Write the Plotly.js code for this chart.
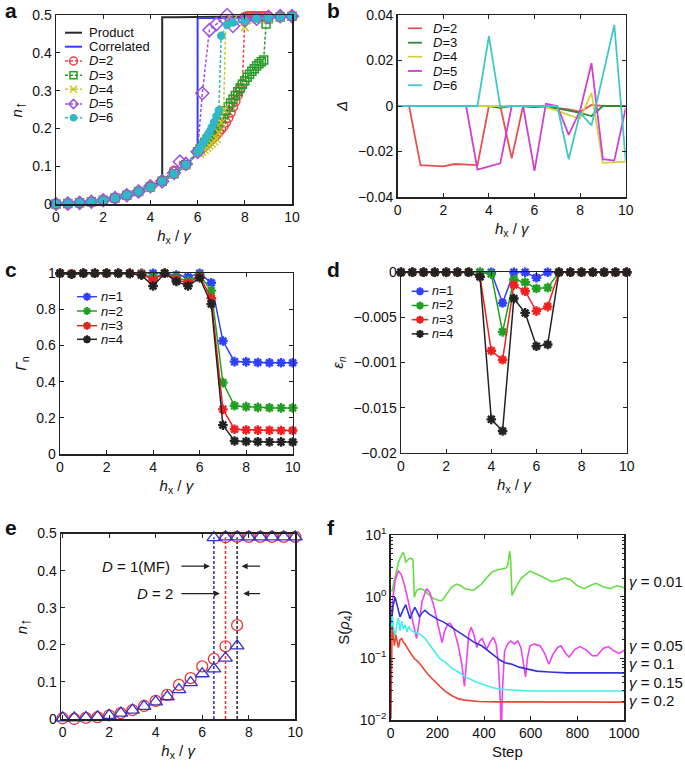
<!DOCTYPE html>
<html><head><meta charset="utf-8">
<script src="https://cdn.plot.ly/plotly-3.0.1.min.js"></script>
<style>html,body{margin:0;padding:0;background:#fff}#chart{width:685px;height:771px}</style>
</head><body><div id="chart"></div>
<script>
// ================= DATA =================
// ---- panel a : n_up vs h_x/gamma ----
const aProductH = [0,0.5,1,1.5,2,2.5,3,3.5,4,4.5,4.5,5,6,7,8,9,10];
const aProductN = [0,0.001,0.003,0.006,0.010,0.016,0.023,0.033,0.045,0.062,0.494,0.494,0.495,0.495,0.496,0.496,0.497];
const aCorrH = [0,0.5,1,1.5,2,2.5,3,3.5,4,4.5,5,5.5,6,6,7,8,9,10];
const aCorrN = [0,0.001,0.003,0.006,0.010,0.016,0.023,0.033,0.045,0.059,0.078,0.102,0.135,0.492,0.492,0.493,0.494,0.495];
const aD2H = [0,0.5,1,1.5,2,2.5,3,3.5,4,4.5,5,5.5,6,6.1,6.2,6.3,6.4,6.5,6.6,6.7,6.8,6.9,7,7.1,7.2,7.3,7.4,7.5,7.6,7.7,7.8,7.9,8,8.1,8.2,8.3,8.4,8.5,8.6,8.7,8.8,8.9,9,9.5,10];
const aD2N = [0,0.001,0.003,0.006,0.010,0.016,0.023,0.033,0.046,0.062,0.088,0.104,0.138,0.142,0.148,0.154,0.160,0.166,0.172,0.178,0.184,0.191,0.198,0.206,0.216,0.228,0.242,0.257,0.272,0.288,0.303,0.318,0.495,0.497,0.497,0.497,0.497,0.497,0.497,0.497,0.497,0.497,0.497,0.497,0.497];
const aD3H = [0,0.5,1,1.5,2,2.5,3,3.5,4,4.5,5,5.5,6,6.1,6.2,6.3,6.4,6.5,6.6,6.7,6.8,6.9,7,7.1,7.2,7.3,7.4,7.5,7.6,7.7,7.8,7.9,8,8.1,8.2,8.3,8.4,8.5,8.6,8.7,8.8,8.9,9,9.5,10];
const aD3N = [0,0.001,0.003,0.006,0.010,0.016,0.023,0.033,0.045,0.060,0.080,0.104,0.138,0.145,0.155,0.163,0.171,0.180,0.189,0.198,0.207,0.217,0.227,0.237,0.247,0.257,0.267,0.277,0.287,0.297,0.307,0.317,0.326,0.335,0.343,0.351,0.358,0.365,0.371,0.376,0.381,0.476,0.490,0.495,0.497];
const aD4H = [0,0.5,1,1.5,2,2.5,3,3.5,4,4.5,5,5.5,6,6.1,6.2,6.3,6.4,6.5,6.6,6.7,6.8,6.9,7,7.1,7.2,7.5,8,8.5,9,9.5,10];
const aD4N = [0,0.001,0.003,0.006,0.010,0.016,0.023,0.033,0.045,0.060,0.080,0.104,0.136,0.134,0.138,0.143,0.149,0.155,0.160,0.166,0.172,0.190,0.215,0.250,0.485,0.487,0.468,0.488,0.490,0.495,0.497];
const aD5H = [0,0.5,1,1.5,2,2.5,3,3.5,4,4.5,5,5.25,5.5,6,6.2,6.5,6.8,7.25,7.5,8,8.5,9,9.5,10];
const aD5N = [0,0.001,0.003,0.006,0.010,0.016,0.023,0.033,0.047,0.060,0.082,0.112,0.106,0.138,0.293,0.460,0.476,0.500,0.471,0.487,0.490,0.495,0.497,0.497];
const aD6H = [0,0.5,1,1.5,2,2.5,3,3.5,4,4.5,5,5.5,6,6.1,6.2,6.3,6.4,6.5,6.6,6.7,6.8,6.9,7,7.25,7.5,8,8.5,9,9.5,10];
const aD6N = [0,0.001,0.003,0.006,0.010,0.016,0.023,0.033,0.044,0.060,0.080,0.104,0.138,0.148,0.158,0.168,0.179,0.190,0.203,0.217,0.232,0.248,0.445,0.474,0.480,0.485,0.490,0.493,0.495,0.497];

// ---- panel b : Delta vs h_x/gamma ----
const bH  = [0,0.5,1,1.5,2,2.5,3,3.5,4,4.5,5,5.5,6,6.5,7,7.5,8,8.5,9,9.5,10];
const bD2 = [0,0,-0.026,-0.0262,-0.0265,-0.0255,-0.0258,-0.026,0,0,-0.023,0,-0.0005,-0.0005,-0.001,-0.0015,-0.0025,0.0005,0,0,0];
const bD3 = [0,0,0,0,0,0,0,0,0,-0.0008,0,0,-0.0005,-0.0005,-0.001,-0.002,-0.003,-0.0044,0,0,0];
const bD4 = [0,0,0,0,0,0,0,0.0003,0.0003,0.0003,0,0,0,-0.0005,-0.002,-0.004,-0.0055,0.0058,-0.025,-0.0248,-0.0245];
const bD5 = [0,0,0,0,0,0,0,-0.028,-0.0265,-0.0252,0,0,-0.0285,0.001,0,-0.0127,-0.002,0.0188,-0.0234,-0.024,-0.001];
const bD6 = [0,0,0,0,0,0,0,0,0.0307,-0.0005,0,0,0,0,0,-0.0234,-0.003,-0.0085,0.0135,0.0356,-0.024];

// ---- panel c : Gamma_n vs h_x/gamma ----
const cH  = [0,0.5,1,1.5,2,2.5,3,3.5,4,4.5,5,5.5,6,6.5,7,7.5,8,8.5,9,9.5,10];
const cN1 = [1,0.997,1,1,1,1,1,1,1,1,0.99,0.98,1,0.948,0.625,0.511,0.51,0.506,0.505,0.505,0.505];
const cN2 = [1,0.997,1,1,1,1,1,0.998,0.975,1,0.975,0.958,0.99,0.904,0.395,0.267,0.262,0.258,0.256,0.255,0.255];
const cN3 = [1,0.997,1,1,1,1,1,0.995,0.963,1,0.965,0.945,0.985,0.862,0.247,0.137,0.133,0.132,0.131,0.13,0.13];
const cN4 = [1,0.995,1,1,1,1,0.998,0.99,0.93,1,0.955,0.93,0.975,0.83,0.16,0.072,0.069,0.068,0.067,0.067,0.066];

// ---- panel d : epsilon_n vs h_x/gamma ----
const dH  = [0,0.5,1,1.5,2,2.5,3,3.5,4,4.5,5,5.5,6,6.5,7,7.5,8,8.5,9,9.5,10];
const dE1 = [0,0,0,0,0,0,0,0,0,-0.0034,0,0,-0.0006,0,0,0,0,0,0,0,0];
const dE2 = [0,0,0,0,0,0,0,0,-0.0002,-0.0066,-0.0008,-0.0011,-0.0018,-0.0017,0,0,0,0,0,0,0];
const dE3 = [0,0,0,0,0,0,0,-0.0005,-0.0087,-0.0097,-0.0014,-0.0021,-0.0043,-0.0038,0,0,0,0,0,0,0];
const dE4 = [0,0,0,0,0,0,0,-0.0005,-0.0163,-0.0176,-0.0029,-0.0045,-0.0082,-0.0080,0,0,0,0,0,0,0];
const dTickVals = [0,-0.005,-0.01,-0.015,-0.02];
const dTickText = ['0','\u22120.005','\u22120.001','\u22120.015','\u22120.02'];

// ---- panel e : hysteresis, D=1 (MF) triangles, D=2 circles ----
const eLoH   = [0,0.5,1,1.5,2,2.5,3,3.5,4,4.5,5,5.5,6,6.5,7,7.5];
const eMFLo  = [0.003,0.003,0.004,0.006,0.010,0.016,0.024,0.034,0.046,0.060,0.079,0.098,0.122,0.135,0.164,0.197];
const eD2Lo  = [0.002,0.000,0.003,0.005,0.010,0.016,0.024,0.035,0.049,0.065,0.092,0.110,0.142,0.162,0.196,0.253];
const eMFHiH = [6.5,7,7.5,8,8.5,9,9.5,10];
const eMFHi  = [0.489,0.491,0.491,0.491,0.491,0.491,0.491,0.491];
const eD2HiH = [7,7.5,8,8.5,9,9.5,10];
const eD2Hi  = [0.490,0.491,0.491,0.491,0.491,0.491,0.491];
const eTransH   = [6.5,7.0,7.5];
const eTransTop = [0.49,0.49,0.49];

// ---- panel f : S(rho_4) vs step ----
const fGreenStep = [5,19,33,45,54,60,64,72,83,93,96,101,111,125,140,160,180,200,219,240,261,283,300,319,340,354,370,390,410,433,455,483,495,503,510,514,520,540,560,597,620,650,690,720,745,770,800,830,860,880,910,940,970,1000];
const fGreenS    = [1.2,2.2,3.6,4.6,5.25,4.5,3.6,3.9,4.2,4.1,3.8,0.98,1.26,1.35,1.3,1.1,0.95,0.88,0.86,1.1,1.43,1.6,1.5,1.34,1.27,1.26,1.4,1.62,2.0,2.5,2.7,2.8,2.9,3.4,5.5,4.0,1.05,1.5,2.0,2.6,2.4,2.1,1.75,1.85,2.0,1.9,1.5,1.35,1.55,1.65,1.45,1.35,1.5,1.4];
const fMagStep = [3,10,20,33,45,60,75,90,103,111,120,135,154,168,185,200,212,220,230,245,254,270,290,305,316,325,335,345,357,369,380,392,402,411,425,440,452,462,470,474,479,488,500,515,530,545,558,570,578,586,597,615,640,660,678,695,715,730,750,765,790,812,840,865,885,910,933,960,980,1000];
const fMagS    = [0.5,1.0,1.9,2.6,2.3,1.5,0.85,0.45,0.27,0.21,0.35,0.85,1.35,1.15,0.7,0.38,0.22,0.18,0.27,0.36,0.37,0.3,0.16,0.08,0.035,0.1,0.25,0.32,0.24,0.15,0.19,0.21,0.17,0.14,0.18,0.22,0.17,0.08,0.02,0.005,0.03,0.13,0.17,0.19,0.17,0.19,0.15,0.07,0.05,0.1,0.16,0.17,0.16,0.12,0.08,0.115,0.15,0.16,0.12,0.105,0.14,0.155,0.135,0.11,0.11,0.145,0.155,0.13,0.12,0.135];
const fBlueStep = [3,10,19,28,40,52,64,75,83,95,104,115,123,135,147,165,183,205,226,250,276,305,333,360,390,420,447,470,490,520,550,576,600,626,680,754,850,1000];
const fBlueS    = [0.35,0.7,0.98,0.7,0.47,0.6,0.74,0.55,0.44,0.58,0.67,0.55,0.47,0.55,0.6,0.52,0.47,0.42,0.39,0.34,0.3,0.25,0.21,0.18,0.16,0.13,0.11,0.093,0.085,0.08,0.072,0.068,0.064,0.062,0.06,0.058,0.058,0.058];
const fCyanStep = [2,7,13,19,26,33,40,47,54,61,70,77,83,95,111,130,147,170,190,210,233,260,290,320,346,375,404,430,461,500,600,1000];
const fCyanS    = [0.2,0.5,0.3,0.23,0.35,0.45,0.28,0.4,0.3,0.35,0.27,0.33,0.3,0.27,0.26,0.24,0.21,0.16,0.126,0.1,0.087,0.07,0.06,0.05,0.045,0.04,0.037,0.034,0.032,0.031,0.0295,0.0295];
const fRedStep = [1,3,6,10,16,22,28,33,40,47,55,62,70,83,100,119,140,161,182,204,230,261,290,319,350,376,450,600,1000];
const fRedS    = [0.0105,0.2,0.33,0.25,0.16,0.24,0.18,0.15,0.2,0.21,0.18,0.17,0.15,0.126,0.1,0.087,0.068,0.054,0.045,0.037,0.03,0.025,0.022,0.021,0.0205,0.02,0.0197,0.0195,0.0195];
const fLabels = ['<i>\u03b3</i> = 0.01','<i>\u03b3</i> = 0.05','<i>\u03b3</i> = 0.1','<i>\u03b3</i> = 0.15','<i>\u03b3</i> = 0.2'];
const fTickVals = [0.01,0.1,1,10];
const fTickText = ['10<sup>\u22122</sup>','10<sup>\u22121</sup>','10<sup>0</sup>','10<sup>1</sup>'];

// ================= STYLE / LAYOUT =================
const W = 685, H = 771;
const fx = px => px / W;
const fy = py => 1 - py / H;
const FONT = 'Liberation Sans, Arial, Helvetica, sans-serif';
const DOT = '3px,2px';

const col = {
  prod:'#2a2a2a', corr:'#3a3aff',
  aD2:'#f04040', aD3:'#2a9a2a', aD4:'#c8c820', aD5:'#a050e0', aD6:'#30b8c8',
  bD2:'#e85050', bD3:'#2e8b37', bD4:'#d2d240', bD5:'#d040d0', bD6:'#40c8c8',
  n1:'#3040ff', n2:'#20a020', n3:'#f02020', n4:'#222222',
  eRed:'#ee3333', eBlue:'#3333cc', eBlack:'#333333',
  fG:'#66dd44', fM:'#ee44ee', fB:'#3333dd', fC:'#44eeee', fR:'#ee4433'
};

const traces = [];
function addLine(xa, ya, x, y, color, opts) {
  opts = opts || {};
  const t = {
    type:'scatter', mode: opts.mode || 'lines', x:x, y:y, xaxis:xa, yaxis:ya,
    line:{color:color, width: opts.width || 1.5, dash: opts.dash || 'solid'},
    cliponaxis: opts.clip ? true : false, showlegend:false, hoverinfo:'skip'
  };
  if (opts.symbol) t.marker = {symbol:opts.symbol, size:opts.size || 8, color: color,
      line:{color:color, width: opts.mlw || 1.5}};
  traces.push(t);
}

// panel a
addLine('x','y', aProductH, aProductN, col.prod, {width:2});
addLine('x','y', aCorrH, aCorrN, col.corr, {width:2});
addLine('x','y', aD2H, aD2N, col.aD2, {mode:'lines+markers', dash:DOT, symbol:'circle-open', size:9});
addLine('x','y', aD3H, aD3N, col.aD3, {mode:'lines+markers', dash:DOT, symbol:'square-open', size:8});
addLine('x','y', aD4H, aD4N, col.aD4, {mode:'lines+markers', dash:DOT, symbol:'x-thin-open', size:8});
addLine('x','y', aD5H, aD5N, col.aD5, {mode:'lines+markers', dash:DOT, symbol:'diamond-open', size:10});
addLine('x','y', aD6H, aD6N, col.aD6, {mode:'lines+markers', dash:DOT, symbol:'circle', size:7});
// panel b
addLine('x2','y2', bH, bD2, col.bD2, {width:1.8});
addLine('x2','y2', bH, bD3, col.bD3, {width:1.8});
addLine('x2','y2', bH, bD4, col.bD4, {width:1.8});
addLine('x2','y2', bH, bD5, col.bD5, {width:1.8});
addLine('x2','y2', bH, bD6, col.bD6, {width:1.8});
// panel c
[[cN1,col.n1],[cN2,col.n2],[cN3,col.n3],[cN4,col.n4]].forEach(p =>
  addLine('x3','y3', cH, p[0], p[1], {mode:'lines+markers', symbol:'asterisk-open', size:8, mlw:2.4}));
// panel d
[[dE1,col.n1],[dE2,col.n2],[dE3,col.n3],[dE4,col.n4]].forEach(p =>
  addLine('x4','y4', dH, p[0], p[1], {mode:'lines+markers', symbol:'asterisk-open', size:8, mlw:2.4}));
// panel e
const eTransCol = [col.eBlue, col.eRed, col.eBlack];
eTransH.forEach((h, i) => addLine('x5','y5', [h, h], [0, eTransTop[i]], eTransCol[i], {dash:DOT, width:1.6}));
addLine('x5','y5', eLoH, eD2Lo, col.eRed, {mode:'markers', symbol:'circle-open', size:11, mlw:1.3});
addLine('x5','y5', eD2HiH, eD2Hi, col.eRed, {mode:'markers', symbol:'circle-open', size:11, mlw:1.3});
addLine('x5','y5', eLoH, eMFLo, col.eBlue, {mode:'markers', symbol:'triangle-up-open', size:12, mlw:1.3});
addLine('x5','y5', eMFHiH, eMFHi, col.eBlue, {mode:'markers', symbol:'triangle-up-open', size:12, mlw:1.3});
// panel f
[[fGreenStep,fGreenS,col.fG],[fMagStep,fMagS,col.fM],[fBlueStep,fBlueS,col.fB],[fCyanStep,fCyanS,col.fC],[fRedStep,fRedS,col.fR]]
  .forEach(p => addLine('x6','y6', p[0], p[1], p[2], {width:1.6, clip:true}));

function ax(extra) {
  return Object.assign({
    showline:true, linecolor:'#222', linewidth:1.5, mirror:'ticks',
    ticks:'inside', ticklen:4, tickwidth:1, tickcolor:'#222',
    showgrid:false, zeroline:false, fixedrange:true,
    tickfont:{family:FONT, size:14, color:'#111'}
  }, extra);
}
const TF = {family:FONT, size:15, color:'#111'};
const hTitle = {text:'<i>h</i><sub>x</sub> / <i>\u03b3</i>', font:TF, standoff:6};
const yt = (t) => ({text:t, font:TF, standoff:6});
const nUp = '<i>n</i><sub><span style="font-size:15px">\u2191</span></sub>';

const layout = {
  width:W, height:H, margin:{l:0, r:0, t:0, b:0},
  paper_bgcolor:'#fff', plot_bgcolor:'#fff', showlegend:false,
  font:{family:FONT, color:'#111'},
  xaxis:  ax({domain:[fx(56), fx(292)], range:[0,10], dtick:2, anchor:'y', title:hTitle}),
  yaxis:  ax({domain:[fy(204), fy(15)], range:[0,0.5], dtick:0.1, anchor:'x', title:yt(nUp)}),
  xaxis2: ax({domain:[fx(397.7), fx(625.7)], range:[0,10], dtick:2, anchor:'y2', title:hTitle}),
  yaxis2: ax({domain:[fy(197), fy(15)], range:[-0.04,0.04], dtick:0.02, anchor:'x2', title:yt('<i>\u0394</i>')}),
  xaxis3: ax({domain:[fx(60), fx(292.7)], range:[0,10], dtick:2, anchor:'y3', title:hTitle}),
  yaxis3: ax({domain:[fy(454), fy(273.3)], range:[0,1], dtick:0.2, anchor:'x3', title:yt('<i>\u0393</i><sub>n</sub>')}),
  xaxis4: ax({domain:[fx(401), fx(626.7)], range:[0,10], dtick:2, anchor:'y4', title:hTitle}),
  yaxis4: ax({domain:[fy(452.7), fy(272.3)], range:[-0.02,0], tickmode:'array', tickvals:dTickVals, ticktext:dTickText, anchor:'x4', title:yt('<i>\u03b5</i><sub><i>n</i></sub>')}),
  xaxis5: ax({domain:[fx(61), fx(295.3)], range:[-0.07,10], tick0:0, dtick:2, anchor:'y5', title:hTitle}),
  yaxis5: ax({domain:[fy(719), fy(533.5)], range:[0,0.5], dtick:0.1, anchor:'x5', title:yt(nUp)}),
  xaxis6: ax({domain:[fx(390.7), fx(624)], range:[0,1000], dtick:200, anchor:'y6', title:{text:'Step', font:TF, standoff:6}}),
  yaxis6: ax({domain:[fy(720), fy(535)], type:'log', range:[-2,1], tickmode:'array', tickvals:fTickVals, ticktext:fTickText, anchor:'x6',
    minor:{ticks:'inside', ticklen:2, tickcolor:'#222', tickmode:'array',
      tickvals:[0.02,0.03,0.04,0.05,0.06,0.07,0.08,0.09,0.2,0.3,0.4,0.5,0.6,0.7,0.8,0.9,2,3,4,5,6,7,8,9]},
    title:yt('S(<i>\u03c1</i><sub>4</sub>)')}),
  shapes:[], annotations:[]
};
const shapes = layout.shapes, annotations = layout.annotations;

// panel letters
[['a',3,11],['b',325,11],['c',3,269],['d',325,269],['e',3,527],['f',325,527]].forEach(p =>
  annotations.push({xref:'paper', yref:'paper', x:fx(p[1]), y:fy(p[2]), xanchor:'left', yanchor:'middle',
    text:'<b>'+p[0]+'</b>', showarrow:false, font:{family:FONT, size:21, color:'#111'}}));

// custom legends (compact rows)
function markerShapes(sym, cx, cy, color, s) {
  const r = s / 2;
  const base = (w) => ({xref:'paper', yref:'paper', xsizemode:'pixel', ysizemode:'pixel',
    xanchor:fx(cx), yanchor:fy(cy), line:{color:color, width:w || 1.5}});
  if (sym === 'circle-open') return [Object.assign(base(), {type:'circle', x0:-r, x1:r, y0:-r, y1:r})];
  if (sym === 'square-open') return [Object.assign(base(), {type:'rect', x0:-r, x1:r, y0:-r, y1:r})];
  if (sym === 'x-thin-open') return [Object.assign(base(), {type:'path', path:`M${-r},${-r}L${r},${r}M${-r},${r}L${r},${-r}`})];
  if (sym === 'diamond-open') { const q = r*1.15; return [Object.assign(base(), {type:'path', path:`M0,${-q}L${q},0L0,${q}L${-q},0Z`})]; }
  if (sym === 'circle') return [Object.assign(base(), {type:'circle', x0:-r, x1:r, y0:-r, y1:r, fillcolor:color})];
  if (sym === 'asterisk-open') { const d = r*0.707;
    return [Object.assign(base(2.2), {type:'path', path:`M${-r},0L${r},0M0,${-r}L0,${r}M${-d},${-d}L${d},${d}M${-d},${d}L${d},${-d}`})]; }
  return [];
}
function legendBlock(entries, lx0, lx1, tx, rows, fs) {
  entries.forEach((e, i) => {
    const y = rows[i];
    shapes.push({type:'line', xref:'paper', yref:'paper', x0:fx(lx0), x1:fx(lx1), y0:fy(y), y1:fy(y),
      line:{color:e.color, width:e.width || 1.5, dash:e.dash || 'solid'}});
    if (e.symbol) markerShapes(e.symbol, (lx0 + lx1) / 2, y, e.color, e.size || 7).forEach(s => shapes.push(s));
    annotations.push({xref:'paper', yref:'paper', x:fx(tx), y:fy(y), xanchor:'left', yanchor:'middle',
      text:e.name, showarrow:false, borderpad:0, font:{family:FONT, size:fs || 13, color:'#111'}});
  });
}
legendBlock([
  {name:'Product', color:col.prod, width:2},
  {name:'Correlated', color:col.corr, width:2},
  {name:'<i>D</i>=2', color:col.aD2, dash:DOT, symbol:'circle-open', size:8},
  {name:'<i>D</i>=3', color:col.aD3, dash:DOT, symbol:'square-open', size:7},
  {name:'<i>D</i>=4', color:col.aD4, dash:DOT, symbol:'x-thin-open', size:7},
  {name:'<i>D</i>=5', color:col.aD5, dash:DOT, symbol:'diamond-open', size:8},
  {name:'<i>D</i>=6', color:col.aD6, dash:DOT, symbol:'circle', size:6}
], 65, 82, 88, [32.7,46.7,61,75.3,89.3,104,117.7]);
legendBlock([
  {name:'<i>D</i>=2', color:col.bD2, width:1.8},
  {name:'<i>D</i>=3', color:col.bD3, width:1.8},
  {name:'<i>D</i>=4', color:col.bD4, width:1.8},
  {name:'<i>D</i>=5', color:col.bD5, width:1.8},
  {name:'<i>D</i>=6', color:col.bD6, width:1.8}
], 408, 422, 431.7, [28.3,42.7,56.7,71,85.3]);
legendBlock([
  {name:'<i>n</i>=1', color:col.n1, symbol:'asterisk-open', size:8},
  {name:'<i>n</i>=2', color:col.n2, symbol:'asterisk-open', size:8},
  {name:'<i>n</i>=3', color:col.n3, symbol:'asterisk-open', size:8},
  {name:'<i>n</i>=4', color:col.n4, symbol:'asterisk-open', size:8}
], 77, 97, 100, [296.7,311,325.7,339.3]);
legendBlock([
  {name:'<i>n</i>=1', color:col.n1, symbol:'asterisk-open', size:8},
  {name:'<i>n</i>=2', color:col.n2, symbol:'asterisk-open', size:8},
  {name:'<i>n</i>=3', color:col.n3, symbol:'asterisk-open', size:8},
  {name:'<i>n</i>=4', color:col.n4, symbol:'asterisk-open', size:8}
], 411.7, 428.3, 431, [291.3,305.5,319.7,333.9], 12.5);

// panel e arrows and labels
const arrows = [[6.33,5.04,0.412],[7.69,8.55,0.412],[6.76,5.04,0.338],[7.76,8.55,0.338]];
arrows.forEach(a => annotations.push({xref:'x5', yref:'y5', axref:'x5', ayref:'y5', x:a[0], y:a[2], ax:a[1], ay:a[2],
  text:'', showarrow:true, arrowhead:2, arrowsize:1, arrowwidth:1.2, arrowcolor:'#222'}));
annotations.push({xref:'x5', yref:'y5', x:4.68, y:0.412, xanchor:'right', yanchor:'middle', text:'<i>D</i> = 1(MF)',
  showarrow:false, font:TF});
annotations.push({xref:'x5', yref:'y5', x:4.83, y:0.338, xanchor:'right', yanchor:'middle', text:'<i>D</i> = 2',
  showarrow:false, font:TF});

// panel f right-hand labels
[581.7, 645, 663.3, 682.7, 700].forEach((py, i) => annotations.push({xref:'paper', yref:'paper', x:fx(628), y:fy(py),
  xanchor:'left', yanchor:'middle', text:fLabels[i], showarrow:false, borderpad:0, font:TF}));

Plotly.newPlot('chart', traces, layout, {staticPlot:true, displayModeBar:false});
</script></body></html>
